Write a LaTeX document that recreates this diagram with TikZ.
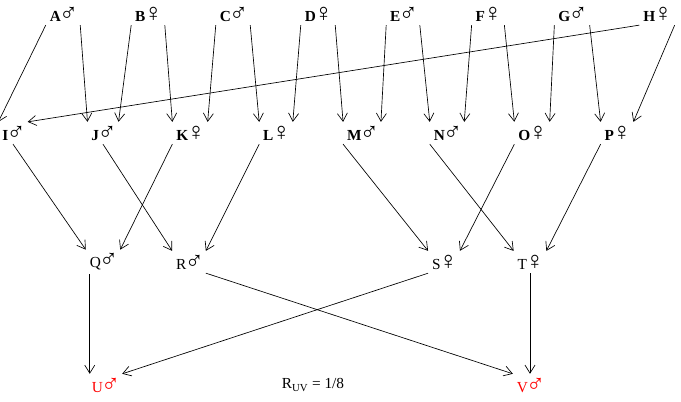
\documentclass[tikz,border=0pt]{standalone}
\usepackage{fontspec}
\setmainfont{Liberation Serif}
\usetikzlibrary{arrows.meta}
\newcommand\mls{\kern-1.2pt{\fontsize{19}{19}\selectfont\mdseries ♂}\kern-1.5pt}
\newcommand\fms{\kern-1.2pt{\fontsize{19}{19}\selectfont\mdseries ♀}\kern-1.5pt}

\tikzset{
  anc/.style={inner sep=1pt,outer sep=2pt,font=\fontsize{11.5}{13}\selectfont\bfseries},
  kid/.style={inner sep=1pt,outer sep=2pt,font=\fontsize{11.5}{13}\selectfont},
  link/.style={-{Straight Barb[length=6pt,width=7.5pt]},line width=0.5pt}
}

\begin{document}
\begin{tikzpicture}[x=0.75pt,y=-0.75pt]
\useasboundingbox (0,0) rectangle (681,401);
% grandparents
\node[anc] (A) at (63,14) {A\mls};
\node[anc] (B) at (148,14) {B\fms};
\node[anc] (C) at (233,14) {C\mls};
\node[anc] (D) at (318,14) {D\fms};
\node[anc] (E) at (403,14) {E\mls};
\node[anc] (F) at (488,14) {F\fms};
\node[anc] (G) at (572,14) {G\mls};
\node[anc] (H) at (657,14) {H\fms};
% parents
\node[anc] (I) at (13,133) {I\mls};
\node[anc] (J) at (103,133) {J\mls};
\node[anc] (K) at (190,133) {K\fms};
\node[anc] (L) at (276,133) {L\fms};
\node[anc] (M) at (362,133) {M\mls};
\node[anc] (N) at (447,133) {N\mls};
\node[anc] (O) at (532,133) {O\fms};
\node[anc] (P) at (617,133) {P\fms};
% children
\node[kid] (Q) at (103,262) {Q\mls};
\node[kid] (R) at (189,262) {R\mls};
\node[kid] (S) at (444,262) {S\fms};
\node[kid] (T) at (530,262) {T\fms};
\node[kid,red] (U) at (105,385) {U\mls};
\node[kid,red] (V) at (530,385) {V\mls};
\node[kid] (ruv) at (313,385) {R\textsubscript{UV} = 1/8};

\draw[link] (A.south west)--(I.north west);
\draw[link] (A.south east)--(J.north west);
\draw[link] (B.south west)--(J.north east);
\draw[link] (B.south east)--(K.north west);
\draw[link] (C.south west)--(K.north east);
\draw[link] (C.south east)--(L.north west);
\draw[link] (D.south west)--(L.north east);
\draw[link] (D.south east)--(M.north west);
\draw[link] (E.south west)--(M.north east);
\draw[link] (E.south east)--(N.north west);
\draw[link] (F.south west)--(N.north east);
\draw[link] (F.south east)--(O.north west);
\draw[link] (G.south west)--(O.north east);
\draw[link] (G.south east)--(P.north west);
\draw[link] (H.south west)--(I.north east);
\draw[link] (H.south east)--(P.north east);

\draw[link] (I.south)--(Q.north west);
\draw[link] (K.south west)--(Q.north east);
\draw[link] (J.south)--(R.north west);
\draw[link] (L.south west)--(R.north east);
\draw[link] (M.south west)--(S.north west);
\draw[link] (O.south west)--(S.north east);
\draw[link] (N.south west)--(T.north west);
\draw[link] (P.south west)--(T.north east);

\draw[link] ([xshift=3pt]Q.south west)--([xshift=3pt]Q.south west |- U.north);
\draw[link] (S.south west)--(U.north east);
\draw[link] (R.south east)--(V.north west);
\draw[link] (T.south)--(V.north);
\end{tikzpicture}
\end{document}
